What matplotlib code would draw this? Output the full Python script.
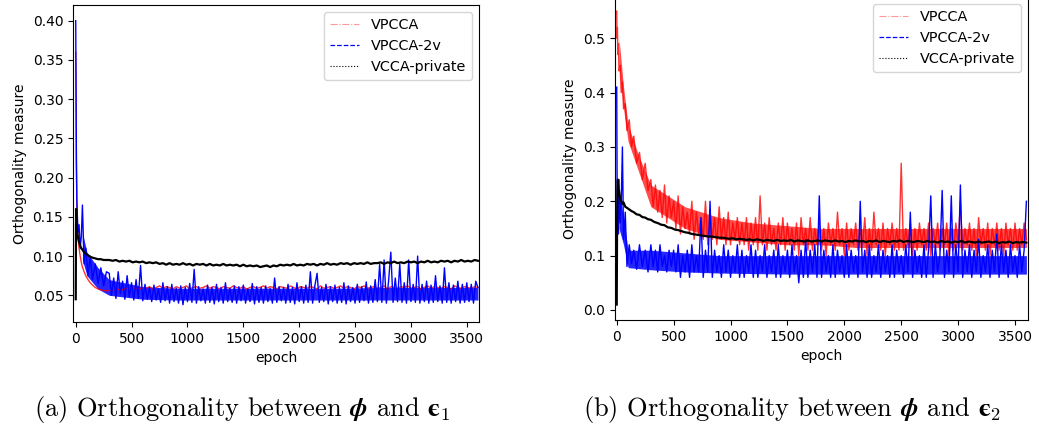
import numpy as np
import matplotlib
matplotlib.use("Agg")
import matplotlib.pyplot as plt
from matplotlib.lines import Line2D

plt.rcParams['mathtext.fontset'] = 'cm'

epochs_early = [0, 3, 6, 10, 15, 20, 30, 40, 50, 60, 75, 90, 110, 130, 150, 175, 200, 225, 250, 275]
epochs30 = np.array(epochs_early + list(range(300, 3601, 30)))   # smoother curves
epochs20 = np.array(epochs_early + list(range(300, 3601, 20)))   # noisy curves

# ---------------- panel (a): phi vs eps1 ----------------
a_vpcca = [0.36, 0.30, 0.22, 0.17, 0.14, 0.125, 0.11, 0.10, 0.092, 0.086,
           0.080, 0.075, 0.070, 0.066, 0.063, 0.060, 0.058, 0.057, 0.056, 0.056,
           0.056, 0.057, 0.056, 0.058, 0.057, 0.059, 0.058, 0.060, 0.059, 0.058,
           0.060, 0.059, 0.061, 0.058, 0.060, 0.062, 0.059, 0.061, 0.060, 0.058,
           0.061, 0.059, 0.060, 0.062, 0.058, 0.060, 0.061, 0.059, 0.060, 0.062,
           0.059, 0.061, 0.060, 0.058, 0.061, 0.060, 0.059, 0.062, 0.060, 0.059,
           0.061, 0.058, 0.060, 0.061, 0.059, 0.060, 0.062, 0.059, 0.061, 0.060,
           0.058, 0.061, 0.060, 0.059, 0.062, 0.060, 0.058, 0.061, 0.060, 0.059,
           0.061, 0.060, 0.058, 0.062, 0.059, 0.060, 0.061, 0.059, 0.060, 0.062,
           0.059, 0.061, 0.060, 0.058, 0.061, 0.060, 0.062, 0.059, 0.060, 0.061,
           0.059, 0.060, 0.062, 0.058, 0.061, 0.060, 0.059, 0.061, 0.060, 0.062,
           0.059, 0.060, 0.061, 0.058, 0.060, 0.062, 0.059, 0.061, 0.060, 0.059,
           0.061, 0.060, 0.058, 0.062, 0.060, 0.059, 0.061, 0.060, 0.059, 0.061, 0.060]

a_vpcca2v = [0.40, 0.30, 0.22, 0.17, 0.15, 0.13, 0.14, 0.11, 0.125, 0.165,
             0.090, 0.110, 0.075, 0.100, 0.070, 0.090, 0.065, 0.085, 0.062, 0.080,
             0.078, 0.050, 0.072, 0.046, 0.080, 0.052, 0.068, 0.045, 0.075, 0.048,
             0.066, 0.044, 0.070, 0.046, 0.088, 0.043, 0.064, 0.045, 0.060, 0.042,
             0.063, 0.044, 0.058, 0.041, 0.066, 0.043, 0.061, 0.040, 0.064, 0.042,
             0.059, 0.040, 0.062, 0.038, 0.060, 0.042, 0.065, 0.041, 0.083, 0.040,
             0.061, 0.043, 0.058, 0.040, 0.063, 0.041, 0.060, 0.039, 0.064, 0.042,
             0.060, 0.040, 0.066, 0.042, 0.059, 0.041, 0.062, 0.040, 0.061, 0.043,
             0.063, 0.040, 0.058, 0.042, 0.065, 0.039, 0.061, 0.041, 0.060, 0.040,
             0.062, 0.042, 0.059, 0.040, 0.072, 0.041, 0.061, 0.043, 0.060, 0.040,
             0.064, 0.041, 0.060, 0.039, 0.066, 0.042, 0.061, 0.040, 0.063, 0.041,
             0.080, 0.040, 0.062, 0.078, 0.041, 0.060, 0.042, 0.064, 0.039, 0.061,
             0.042, 0.063, 0.040, 0.060, 0.041, 0.066, 0.039, 0.062, 0.042, 0.060,
             0.040, 0.064, 0.041, 0.061, 0.043, 0.067, 0.040, 0.062, 0.041, 0.070,
             0.042, 0.090, 0.041, 0.095, 0.040, 0.068, 0.105, 0.041, 0.072, 0.042,
             0.090, 0.041, 0.066, 0.040, 0.095, 0.042, 0.064, 0.041, 0.100, 0.040,
             0.064, 0.042, 0.068, 0.040, 0.063, 0.041, 0.075, 0.042, 0.062, 0.040,
             0.085, 0.041, 0.066, 0.040, 0.063, 0.042, 0.068, 0.040, 0.064, 0.041,
             0.066, 0.042, 0.064, 0.040, 0.068, 0.060]

a_vcca = [0.045, 0.16, 0.145, 0.135, 0.128, 0.124, 0.118, 0.113, 0.110, 0.108,
          0.105, 0.103, 0.101, 0.099, 0.098, 0.097, 0.096, 0.096, 0.095, 0.095,
          0.095, 0.094, 0.095, 0.093, 0.094, 0.093, 0.094, 0.092, 0.093, 0.092,
          0.093, 0.091, 0.092, 0.091, 0.092, 0.090, 0.091, 0.089, 0.091, 0.089,
          0.090, 0.089, 0.091, 0.089, 0.090, 0.088, 0.090, 0.089, 0.090, 0.088,
          0.090, 0.088, 0.089, 0.088, 0.090, 0.088, 0.089, 0.088, 0.089, 0.087,
          0.089, 0.087, 0.088, 0.087, 0.088, 0.086, 0.087, 0.088, 0.086, 0.088,
          0.087, 0.089, 0.088, 0.089, 0.088, 0.090, 0.088, 0.089, 0.088, 0.090,
          0.089, 0.090, 0.088, 0.090, 0.089, 0.091, 0.089, 0.090, 0.089, 0.091,
          0.090, 0.091, 0.089, 0.091, 0.090, 0.091, 0.090, 0.092, 0.090, 0.091,
          0.091, 0.092, 0.090, 0.092, 0.091, 0.093, 0.091, 0.092, 0.091, 0.093,
          0.092, 0.093, 0.091, 0.093, 0.092, 0.094, 0.092, 0.093, 0.092, 0.094,
          0.093, 0.094, 0.092, 0.094, 0.093, 0.095, 0.093, 0.094, 0.093, 0.095, 0.094]

# dense core of the noisy bands
band_epochs_a = [60, 100, 200, 300, 600, 900, 1200, 1500, 1800, 2100, 2400, 2700, 3000, 3300, 3600]
a_vpcca2v_lo = [0.095, 0.075, 0.058, 0.050, 0.045, 0.044, 0.044, 0.044, 0.044, 0.044, 0.044, 0.044, 0.044, 0.044, 0.044]
a_vpcca2v_hi = [0.130, 0.105, 0.085, 0.070, 0.061, 0.059, 0.059, 0.059, 0.059, 0.059, 0.059, 0.060, 0.060, 0.060, 0.060]

# ---------------- panel (b): phi vs eps2 ----------------
b_vpcca = [0.55, 0.50, 0.52, 0.47, 0.49, 0.44, 0.45, 0.40, 0.42, 0.37,
           0.38, 0.33, 0.35, 0.30, 0.32, 0.27, 0.29, 0.24, 0.27, 0.22,
           0.24, 0.19, 0.23, 0.18, 0.22, 0.17, 0.23, 0.16, 0.21, 0.17,
           0.20, 0.15, 0.21, 0.14, 0.19, 0.15, 0.18, 0.14, 0.20, 0.13,
           0.18, 0.14, 0.17, 0.13, 0.20, 0.12, 0.18, 0.13, 0.17, 0.12,
           0.19, 0.13, 0.17, 0.12, 0.18, 0.12, 0.16, 0.13, 0.17, 0.12,
           0.16, 0.12, 0.17, 0.11, 0.16, 0.12, 0.17, 0.11, 0.21, 0.12,
           0.16, 0.11, 0.17, 0.12, 0.15, 0.11, 0.16, 0.12, 0.17, 0.11,
           0.16, 0.12, 0.15, 0.11, 0.16, 0.10, 0.17, 0.12, 0.15, 0.11,
           0.17, 0.11, 0.15, 0.12, 0.16, 0.11, 0.15, 0.10, 0.16, 0.12,
           0.15, 0.11, 0.18, 0.12, 0.15, 0.10, 0.16, 0.11, 0.15, 0.12,
           0.16, 0.11, 0.15, 0.12, 0.17, 0.10, 0.15, 0.11, 0.18, 0.12,
           0.15, 0.11, 0.16, 0.10, 0.15, 0.12, 0.16, 0.11, 0.15, 0.11,
           0.27, 0.11, 0.15, 0.12, 0.16, 0.10, 0.15, 0.11, 0.16, 0.12,
           0.15, 0.11, 0.16, 0.10, 0.15, 0.12, 0.16, 0.11, 0.15, 0.12,
           0.16, 0.10, 0.15, 0.11, 0.16, 0.12, 0.20, 0.11, 0.15, 0.12,
           0.16, 0.11, 0.15, 0.10, 0.17, 0.12, 0.15, 0.11, 0.16, 0.10,
           0.15, 0.12, 0.16, 0.11, 0.15, 0.10, 0.16, 0.12, 0.15, 0.11,
           0.16, 0.11, 0.15, 0.12, 0.16, 0.13]

b_vpcca2v = [0.41, 0.25, 0.15, 0.22, 0.14, 0.24, 0.16, 0.20, 0.30, 0.13,
             0.18, 0.08, 0.12, 0.085, 0.11, 0.075, 0.12, 0.08, 0.11, 0.07,
             0.12, 0.08, 0.11, 0.07, 0.12, 0.08, 0.10, 0.07, 0.11, 0.08,
             0.11, 0.07, 0.12, 0.06, 0.10, 0.07, 0.11, 0.06, 0.12, 0.07,
             0.10, 0.07, 0.17, 0.06, 0.11, 0.07, 0.20, 0.06, 0.11, 0.07,
             0.10, 0.06, 0.12, 0.07, 0.11, 0.06, 0.10, 0.07, 0.12, 0.06,
             0.11, 0.06, 0.10, 0.07, 0.12, 0.06, 0.11, 0.06, 0.10, 0.07,
             0.12, 0.06, 0.10, 0.07, 0.11, 0.06, 0.12, 0.06, 0.10, 0.07,
             0.11, 0.06, 0.12, 0.07, 0.10, 0.05, 0.11, 0.06, 0.13, 0.06,
             0.11, 0.07, 0.12, 0.06, 0.21, 0.06, 0.11, 0.07, 0.10, 0.06,
             0.12, 0.06, 0.11, 0.07, 0.10, 0.06, 0.12, 0.06, 0.11, 0.07,
             0.10, 0.06, 0.20, 0.07, 0.11, 0.06, 0.12, 0.06, 0.10, 0.07,
             0.12, 0.06, 0.11, 0.07, 0.10, 0.06, 0.12, 0.06, 0.11, 0.07,
             0.10, 0.06, 0.12, 0.07, 0.18, 0.06, 0.11, 0.07, 0.10, 0.06,
             0.12, 0.06, 0.11, 0.21, 0.06, 0.12, 0.07, 0.10, 0.22, 0.06,
             0.11, 0.07, 0.21, 0.06, 0.12, 0.07, 0.23, 0.06, 0.11, 0.07,
             0.12, 0.06, 0.11, 0.07, 0.13, 0.06, 0.10, 0.07, 0.12, 0.06,
             0.11, 0.07, 0.14, 0.06, 0.12, 0.07, 0.11, 0.06, 0.12, 0.07,
             0.10, 0.06, 0.12, 0.07, 0.11, 0.20]

b_vcca = [0.010, 0.150, 0.220, 0.240, 0.210, 0.220, 0.205, 0.200, 0.195, 0.198,
          0.190, 0.188, 0.185, 0.182, 0.180, 0.176, 0.175, 0.171, 0.170, 0.167,
          0.166, 0.162, 0.160, 0.157, 0.156, 0.152, 0.151, 0.148, 0.147, 0.145,
          0.143, 0.142, 0.140, 0.139, 0.138, 0.137, 0.136, 0.135, 0.135, 0.134,
          0.133, 0.133, 0.132, 0.131, 0.132, 0.130, 0.131, 0.130, 0.129, 0.130,
          0.128, 0.130, 0.129, 0.127, 0.129, 0.128, 0.127, 0.129, 0.127, 0.128,
          0.127, 0.129, 0.126, 0.128, 0.127, 0.126, 0.128, 0.126, 0.127, 0.128,
          0.126, 0.128, 0.127, 0.126, 0.128, 0.126, 0.127, 0.125, 0.127, 0.126,
          0.128, 0.126, 0.127, 0.125, 0.127, 0.126, 0.128, 0.125, 0.127, 0.126,
          0.125, 0.127, 0.126, 0.128, 0.125, 0.127, 0.126, 0.125, 0.127, 0.126,
          0.125, 0.127, 0.125, 0.126, 0.124, 0.127, 0.125, 0.126, 0.124, 0.126,
          0.125, 0.127, 0.124, 0.126, 0.125, 0.124, 0.126, 0.124, 0.125, 0.126,
          0.124, 0.126, 0.123, 0.125, 0.124, 0.126, 0.123, 0.125, 0.124, 0.125, 0.124]

band_epochs_b = [20, 60, 100, 200, 300, 600, 900, 1200, 1500, 1800, 2100, 2400, 2700, 3000, 3300, 3600]
b_vpcca_lo = [0.45, 0.37, 0.31, 0.25, 0.19, 0.15, 0.13, 0.125, 0.12, 0.12, 0.115, 0.115, 0.115, 0.115, 0.115, 0.115]
b_vpcca_hi = [0.50, 0.41, 0.34, 0.28, 0.23, 0.19, 0.17, 0.160, 0.155, 0.15, 0.150, 0.150, 0.150, 0.150, 0.150, 0.150]
b_vpcca2v_lo = [0.15, 0.12, 0.078, 0.076, 0.074, 0.070, 0.068, 0.067, 0.066, 0.066, 0.066, 0.066, 0.066, 0.066, 0.066, 0.066]
b_vpcca2v_hi = [0.22, 0.17, 0.110, 0.110, 0.110, 0.105, 0.100, 0.100, 0.100, 0.100, 0.100, 0.100, 0.100, 0.100, 0.100, 0.100]

labels = ["VPCCA", "VPCCA-2v", "VCCA-private"]
EPS = "\u03f5"
captions = [r"(a) Orthogonality between $\boldsymbol{\phi}$ and $\boldsymbol{" + EPS + r"}_1$",
            r"(b) Orthogonality between $\boldsymbol{\phi}$ and $\boldsymbol{" + EPS + r"}_2$"]

fig = plt.figure(figsize=(10.39, 4.25), dpi=100)
axA = fig.add_axes([0.0703, 0.2424, 0.3908, 0.7459])
axB = fig.add_axes([0.5916, 0.2471, 0.3978, 0.760])

def draw(ax, red, red_x, blue, blue_x, black):
    ax.plot(red_x, red, color='red', ls='-', lw=1.0, alpha=0.8)
    ax.plot(blue_x, blue, color='blue', ls='-', lw=1.0)
    ax.plot(epochs30, black, color='black', ls='-', lw=1.6)
    handles = [Line2D([], [], color='red', ls='-.', lw=0.8, alpha=0.4),
               Line2D([], [], color='blue', ls='--', lw=0.9),
               Line2D([], [], color='black', ls=':', lw=0.8)]
    ax.set_xlabel("epoch", fontsize=10)
    ax.set_ylabel("Orthogonality measure", fontsize=10)
    ax.set_xticks([0, 500, 1000, 1500, 2000, 2500, 3000, 3500])
    ax.tick_params(labelsize=10)
    ax.legend(handles, labels, loc='upper right', fontsize=10.4)

# bands are drawn beneath the lines
axA.fill_between(band_epochs_a, a_vpcca2v_lo, a_vpcca2v_hi, color='blue', alpha=0.85, lw=0)
draw(axA, a_vpcca, epochs30, a_vpcca2v, epochs20, a_vcca)
axA.set_xlim(-24, 3610)
axA.set_ylim(0.016, 0.42)
axA.set_yticks([0.05, 0.10, 0.15, 0.20, 0.25, 0.30, 0.35, 0.40])

axB.fill_between(band_epochs_b, b_vpcca_lo, b_vpcca_hi, color='red', alpha=0.7, lw=0)
axB.fill_between(band_epochs_b, b_vpcca2v_lo, b_vpcca2v_hi, color='blue', alpha=0.85, lw=0)
draw(axB, b_vpcca, epochs20, b_vpcca2v, epochs20, b_vcca)
axB.set_xlim(-18, 3614)
axB.set_ylim(-0.0184, 0.576)
axB.set_yticks([0.0, 0.1, 0.2, 0.3, 0.4, 0.5])

fig.text(0.2334, 0.0376, captions[0], ha='center', va='center', fontsize=19, family='cmr10')
fig.text(0.7626, 0.0376, captions[1], ha='center', va='center', fontsize=19, family='cmr10')

fig.savefig("out.png", dpi=100)
